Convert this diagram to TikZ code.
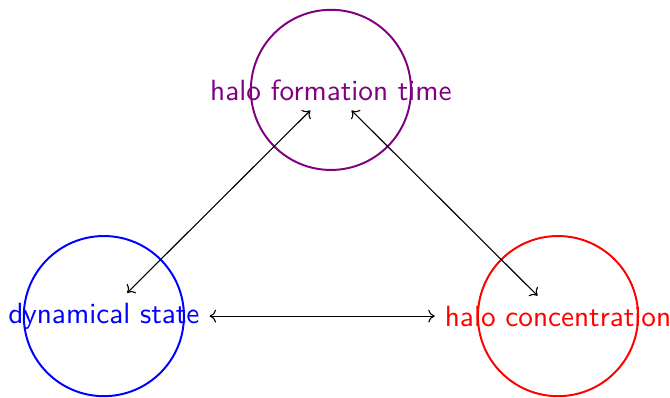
\documentclass[tikz,border=0pt]{standalone}
\usetikzlibrary{arrows.meta}
\begin{document}
\begin{tikzpicture}[
  lbl/.style={font=\sffamily\fontsize{10.45}{12.5}\selectfont, inner sep=3.4pt},
  ring/.style={line width=0.7pt},
  link/.style={{To[length=2.3pt,width=4.6pt]}-{To[length=2.3pt,width=4.6pt]}, line width=0.4pt}
]
\useasboundingbox (0,0) rectangle (239.3pt,-141.8pt);
\node[lbl, text=violet] (hft) at (118.2pt,-32.1pt) {halo formation time};
\node[lbl, text=blue] (ds) at (37.1pt,-112.9pt) {dynamical state};
\node[lbl, text=red] (hc) at (199.3pt,-112.9pt) {halo concentration};
\draw[ring, violet] (hft.center) circle (28.6pt);
\draw[ring, blue] (ds.center) circle (28.6pt);
\draw[ring, red] (hc.center) circle (28.6pt);
\draw[link] (hft) -- (ds);
\draw[link] (hft) -- (hc);
\draw[link] (ds) -- (hc);
\end{tikzpicture}
\end{document}
